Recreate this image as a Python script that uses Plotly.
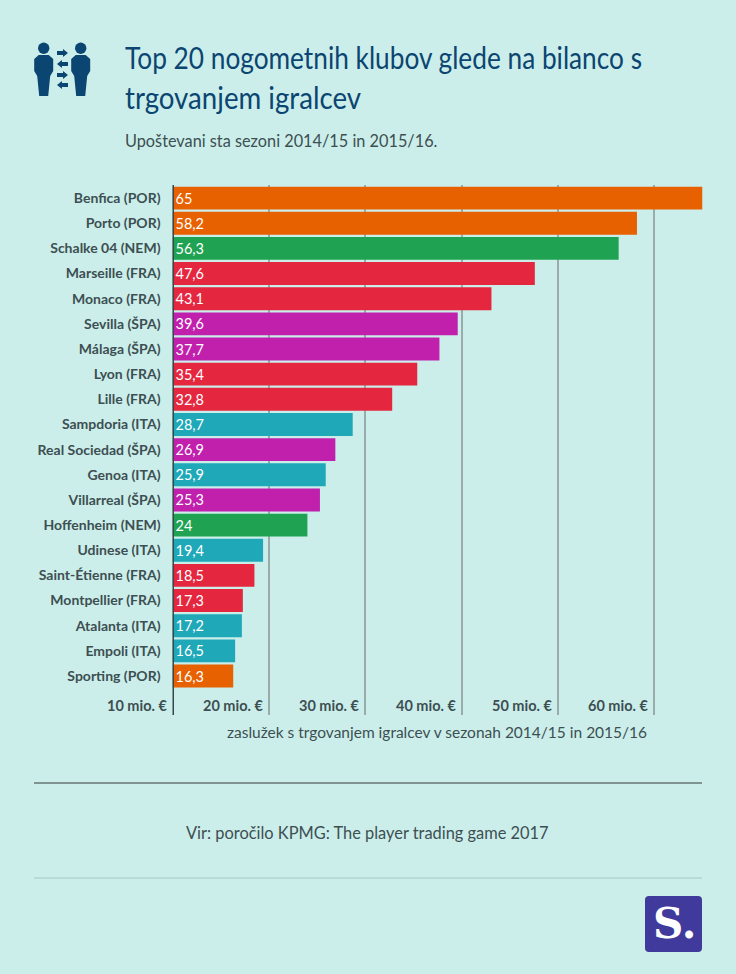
import plotly.graph_objects as go

W, H = 736, 974

# data
clubs = ['Benfica (POR)', 'Porto (POR)', 'Schalke 04 (NEM)', 'Marseille (FRA)', 'Monaco (FRA)',
         'Sevilla (ŠPA)', 'Málaga (ŠPA)', 'Lyon (FRA)', 'Lille (FRA)', 'Sampdoria (ITA)',
         'Real Sociedad (ŠPA)', 'Genoa (ITA)', 'Villarreal (ŠPA)', 'Hoffenheim (NEM)', 'Udinese (ITA)',
         'Saint-Étienne (FRA)', 'Montpellier (FRA)', 'Atalanta (ITA)', 'Empoli (ITA)', 'Sporting (POR)']
profit = [65, 58.2, 56.3, 47.6, 43.1, 39.6, 37.7, 35.4, 32.8, 28.7,
          26.9, 25.9, 25.3, 24, 19.4, 18.5, 17.3, 17.2, 16.5, 16.3]
tick_values = [10, 20, 30, 40, 50, 60]
tick_labels = ['10 mio. €', '20 mio. €', '30 mio. €', '40 mio. €', '50 mio. €', '60 mio. €']

country_colors = {'POR': '#e86100', 'NEM': '#1fa352', 'FRA': '#e4273f', 'ŠPA': '#c020ac', 'ITA': '#1fa8b8'}
bar_colors = [country_colors[c[-4:-1]] for c in clubs]
bar_text = [str(v).replace('.', ',') for v in profit]

BG = '#cbeeea'
NAVY = '#0b4571'
TEXT = '#3d4f52'
BODY_FONT = 'Lato'


def px(x):
    return x / W


def py(y):
    return 1 - y / H


def text(x, y, s, size, color=TEXT, anchor='left'):
    fig.add_annotation(xref='paper', yref='paper', x=px(x), y=py(y), text=s, showarrow=False,
                       xanchor=anchor, yanchor='middle', font=dict(size=size, color=color, family=BODY_FONT))


def hline(y, x0, x1, color, width):
    fig.add_shape(type='line', xref='paper', yref='paper', x0=px(x0), x1=px(x1), y0=py(y), y1=py(y),
                  line=dict(color=color, width=width))


def icon_path(points):
    # build an svg path from pixel points of the page
    d = 'M' + ' L'.join(f'{px(x):.5f},{py(y):.5f}' for x, y in points) + ' Z'
    fig.add_shape(type='path', xref='paper', yref='paper', path=d, fillcolor=NAVY, line=dict(width=0), layer='above')


fig = go.Figure()

fig.add_trace(go.Bar(x=[v - 10 for v in profit], y=clubs, base=10, orientation='h',
                     marker=dict(color=bar_colors, line=dict(width=0)),
                     text=bar_text, textposition='inside', insidetextanchor='start', textangle=0,
                     constraintext='none', cliponaxis=False,
                     textfont=dict(color='white', size=14.5, family=BODY_FONT)))

fig.update_layout(
    width=W, height=H, margin=dict(l=0, r=0, t=0, b=0), autosize=False,
    paper_bgcolor=BG, plot_bgcolor=BG, showlegend=False, bargap=0.09,
    font=dict(family=BODY_FONT, color=TEXT),
    xaxis=dict(domain=[px(172.5), px(702.5)], range=[10, 65], tickvals=tick_values, showticklabels=False,
               ticks='', showgrid=True, gridcolor='#9aaca9', gridwidth=1.5,
               zeroline=False, showline=False, anchor='y'),
    yaxis=dict(domain=[py(715), py(185)], range=[20.55, -0.52], type='category', categoryorder='array',
               categoryarray=clubs, showgrid=False, ticks='', showline=False, ticklabelstandoff=11,
               tickfont=dict(size=14, color=TEXT, family=BODY_FONT, weight='bold')),
)

# axis line at the base of the bars
fig.add_shape(type='line', xref='x', yref='paper', x0=10, x1=10, y0=py(715), y1=py(185),
              line=dict(color='#37474a', width=3), layer='above')

# value labels sit left of their gridlines, inside the plot
for val, lab in zip(tick_values, tick_labels):
    fig.add_annotation(xref='x', yref='paper', x=val, y=py(705), text=lab, showarrow=False,
                       xanchor='right', yanchor='middle', xshift=-4,
                       font=dict(size=14.5, color=TEXT, family=BODY_FONT, weight='bold'))

# header
text(123, 57, 'Top 20 nogometnih klubov glede na bilanco s', 31, NAVY)
text(123, 97, 'trgovanjem igralcev', 31, NAVY)
text(123, 140, 'Upoštevani sta sezoni 2014/15 in 2015/16.', 16.3)

# footer
text(437, 732, 'zaslužek s trgovanjem igralcev v sezonah 2014/15 in 2015/16', 15.5, anchor='center')
hline(783, 34, 702, '#7f9490', 2)
text(367, 832, 'Vir: poročilo KPMG: The player trading game 2017', 16.4, anchor='center')
hline(878, 34, 702, '#a9c9c6', 1)

# icon: two people with arrows between them
for cx in [43.7, 80.7]:
    fig.add_shape(type='circle', xref='paper', yref='paper', x0=px(cx - 5.7), x1=px(cx + 5.7),
                  y0=py(42.6), y1=py(54), fillcolor=NAVY, line=dict(width=0))
    icon_path([(cx - 5, 55), (cx + 5, 55), (cx + 9.5, 59), (cx + 9.5, 71), (cx + 6.5, 76), (cx + 4.5, 96),
               (cx - 4.5, 96), (cx - 6.5, 76), (cx - 9.5, 71), (cx - 9.5, 59)])
for ay, sign in [(53, 1), (64, -1), (75, 1), (85, -1)]:
    x0, x1 = (57, 68) if sign > 0 else (68, 57)
    xm = x1 - sign * 5
    icon_path([(x0, ay - 2), (xm, ay - 2), (xm, ay - 4), (x1, ay), (xm, ay + 4), (xm, ay + 2), (x0, ay + 2)])

# logo
x0, x1, y0, y1, r = px(645), px(702), py(896), py(952), 4 / W
ry = 4 / H
fig.add_shape(type='path', xref='paper', yref='paper', fillcolor='#3f3a9b', line=dict(width=0),
              path=f'M{x0 + r},{y0} L{x1 - r},{y0} Q{x1},{y0} {x1},{y0 - ry} L{x1},{y1 + ry} Q{x1},{y1} {x1 - r},{y1} '
                   f'L{x0 + r},{y1} Q{x0},{y1} {x0},{y1 + ry} L{x0},{y0 - ry} Q{x0},{y0} {x0 + r},{y0} Z')
fig.add_annotation(xref='paper', yref='paper', x=px(674), y=py(923), text='<b>S.</b>', showarrow=False,
                   xanchor='center', yanchor='middle', font=dict(size=42, color='white', family='DejaVu Serif'))

# the title font is narrower than anything installed, squeeze the two lines to their widths
squeeze = """
document.body.style.margin = '0';
var widths = {'Top 20': 517, 'trgovanjem igralcev': 236};
document.querySelectorAll('.annotation-text').forEach(function (t) {
    Object.keys(widths).forEach(function (k) {
        if (t.textContent.indexOf(k) === 0) {
            var box = t.getBBox();
            t.setAttribute('text-anchor', 'start');
            t.setAttribute('x', box.x);
            t.setAttribute('textLength', widths[k]);
            t.setAttribute('lengthAdjust', 'spacingAndGlyphs');
        }
    });
});
"""
fig.write_html('out.html', config={'displayModeBar': False}, post_script=squeeze)
